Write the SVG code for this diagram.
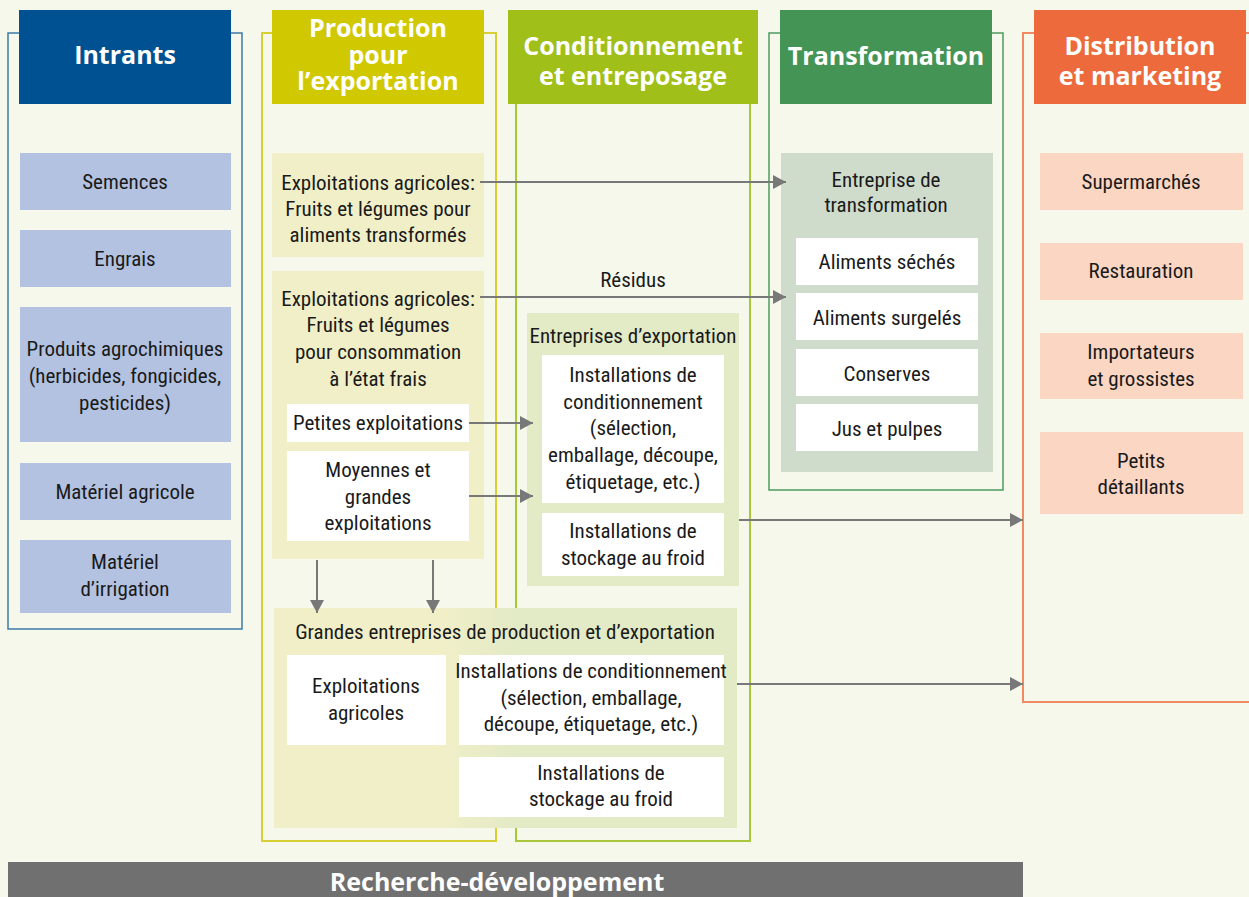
<svg xmlns="http://www.w3.org/2000/svg" width="1249" height="897" viewBox="0 0 1249 897">
  <defs>
    <marker id="arrow" markerUnits="userSpaceOnUse" markerWidth="14" markerHeight="14" refX="13" refY="7" orient="auto">
      <path d="M0,0 L13,7 L0,14 Z" fill="#787878"/>
    </marker>
    <linearGradient id="bigCo" x1="274" y1="0" x2="737" y2="0" gradientUnits="userSpaceOnUse">
      <stop offset="0" stop-color="#f1efc8"/>
      <stop offset="0.36" stop-color="#f1efc8"/>
      <stop offset="0.52" stop-color="#e3eac6"/>
      <stop offset="1" stop-color="#e3eac6"/>
    </linearGradient>
    <style>
      .col { fill: none; }
      .hd { font-family: "Open Sans", "DejaVu Sans", sans-serif; font-weight: 700; font-size: 25px; fill: #ffffff; text-anchor: middle; }
      .t { font-family: "Liberation Sans Narrow", "Roboto Condensed", "Liberation Sans", sans-serif; font-size: 21px; fill: #1a1a1a; text-anchor: middle; }
      .white { fill: #ffffff; }
      .blue { fill: #b3c2e0; }
      .pale { fill: #f1efc8; }
      .sage { fill: #e3eac6; }
      .grey { fill: #d0dccb; }
      .peach { fill: #fad6c3; }
      .arr { stroke: #787878; stroke-width: 2; fill: none; marker-end: url(#arrow); }
    </style>
  </defs>

  <rect x="0" y="0" width="1249" height="897" fill="#f6f8ec"/>

  <!-- Intrants -->
  <g id="intrants">
    <rect class="col" x="8" y="33" width="234" height="596" stroke="#3d7aa9" stroke-width="1.5"/>
    <rect x="19" y="10" width="212" height="94" fill="#005192"/>
    <text class="hd" x="125" y="64" font-size="26">Intrants</text>
    <rect class="blue" x="20" y="153" width="211" height="57"/>
    <text class="t" x="125" y="189">Semences</text>
    <rect class="blue" x="20" y="230" width="211" height="57"/>
    <text class="t" x="125" y="266">Engrais</text>
    <rect class="blue" x="20" y="307" width="211" height="135"/>
    <text class="t" x="125" y="356">Produits agrochimiques<tspan x="125" dy="27">(herbicides, fongicides,</tspan><tspan x="125" dy="27">pesticides)</tspan></text>
    <rect class="blue" x="20" y="463" width="211" height="57"/>
    <text class="t" x="125" y="499">Matériel agricole</text>
    <rect class="blue" x="20" y="540" width="211" height="73"/>
    <text class="t" x="125" y="569">Matériel<tspan x="125" dy="27">d’irrigation</tspan></text>
  </g>

  <!-- Production pour l'exportation -->
  <g id="production">
    <rect class="col" x="262" y="33" width="234" height="808" stroke="#d8cf35" stroke-width="2"/>
    <rect x="272" y="10" width="212" height="94" fill="#d0c800"/>
    <text class="hd" x="378" y="37">Production<tspan x="378" dy="27">pour</tspan><tspan x="378" dy="26">l’exportation</tspan></text>
    <rect class="pale" x="272" y="153" width="212" height="104"/>
    <text class="t" x="378" y="190">Exploitations agricoles:<tspan x="378" dy="26">Fruits et légumes pour</tspan><tspan x="378" dy="26">aliments transformés</tspan></text>
    <rect class="pale" x="272" y="271" width="212" height="288"/>
    <text class="t" x="378" y="306">Exploitations agricoles:<tspan x="378" dy="26">Fruits et légumes</tspan><tspan x="378" dy="27">pour consommation</tspan><tspan x="378" dy="27">à l’état frais</tspan></text>
  </g>
  <g id="petites-exploitations">
    <rect class="white" x="287" y="404" width="182" height="38"/>
    <text class="t" x="378" y="430">Petites exploitations</text>
  </g>
  <g id="moyennes-grandes">
    <rect class="white" x="287" y="451" width="182" height="90"/>
    <text class="t" x="378" y="477">Moyennes et<tspan x="378" dy="27">grandes</tspan><tspan x="378" dy="26">exploitations</tspan></text>
  </g>

  <!-- Conditionnement et entreposage -->
  <g id="conditionnement">
    <rect class="col" x="516" y="33" width="234" height="808" stroke="#a8c73a" stroke-width="2"/>
    <rect x="508" y="10" width="250" height="94" fill="#a0bf19"/>
    <text class="hd" x="633" y="55">Conditionnement<tspan x="633" dy="30">et entreposage</tspan></text>
  </g>
  <g id="entreprises-exportation">
    <rect class="sage" x="527" y="313" width="212" height="273"/>
    <text class="t" x="633" y="343">Entreprises d’exportation</text>
    <rect class="white" x="542" y="355" width="182" height="148"/>
    <text class="t" x="633" y="382">Installations de<tspan x="633" dy="27">conditionnement</tspan><tspan x="633" dy="26">(sélection,</tspan><tspan x="633" dy="27">emballage, découpe,</tspan><tspan x="633" dy="27">étiquetage, etc.)</tspan></text>
    <rect class="white" x="542" y="513" width="182" height="63"/>
    <text class="t" x="633" y="538">Installations de<tspan x="633" dy="27">stockage au froid</tspan></text>
  </g>

  <!-- Grandes entreprises -->
  <g id="grandes-entreprises">
    <rect x="274" y="608" width="463" height="220" fill="url(#bigCo)"/>
    <text class="t" x="505" y="639">Grandes entreprises de production et d’exportation</text>
    <rect class="white" x="287" y="655" width="159" height="90"/>
    <text class="t" x="366" y="693">Exploitations<tspan x="366" dy="27">agricoles</tspan></text>
    <rect class="white" x="459" y="655" width="265" height="90"/>
    <text class="t" x="591" y="678">Installations de conditionnement<tspan x="591" dy="27">(sélection, emballage,</tspan><tspan x="591" dy="26">découpe, étiquetage, etc.)</tspan></text>
    <rect class="white" x="459" y="757" width="265" height="60"/>
    <text class="t" x="601" y="780">Installations de<tspan x="601" dy="26">stockage au froid</tspan></text>
  </g>

  <!-- Transformation -->
  <g id="transformation">
    <rect class="col" x="769" y="33" width="234" height="457" stroke="#4e9a5e" stroke-width="1.5"/>
    <rect x="780" y="10" width="212" height="94" fill="#439455"/>
    <text class="hd" x="886" y="65">Transformation</text>
    <rect class="grey" x="781" y="153" width="212" height="319"/>
    <text class="t" x="886" y="187">Entreprise de<tspan x="886" dy="25">transformation</tspan></text>
    <rect class="white" x="796" y="238" width="182" height="47"/>
    <text class="t" x="887" y="269">Aliments séchés</text>
    <rect class="white" x="796" y="293" width="182" height="47"/>
    <text class="t" x="887" y="325">Aliments surgelés</text>
    <rect class="white" x="796" y="349" width="182" height="47"/>
    <text class="t" x="887" y="381">Conserves</text>
    <rect class="white" x="796" y="404" width="182" height="47"/>
    <text class="t" x="887" y="436">Jus et pulpes</text>
  </g>

  <!-- Distribution et marketing -->
  <g id="distribution">
    <rect class="col" x="1023" y="33" width="240" height="669" stroke="#ef8a63" stroke-width="2"/>
    <rect x="1034" y="10" width="212" height="94" fill="#ec6a3b"/>
    <text class="hd" x="1140" y="55">Distribution<tspan x="1140" dy="30">et marketing</tspan></text>
    <rect class="peach" x="1040" y="153" width="203" height="57"/>
    <text class="t" x="1141" y="189">Supermarchés</text>
    <rect class="peach" x="1040" y="243" width="203" height="57"/>
    <text class="t" x="1141" y="278">Restauration</text>
    <rect class="peach" x="1040" y="333" width="203" height="66"/>
    <text class="t" x="1141" y="359">Importateurs<tspan x="1141" dy="27">et grossistes</tspan></text>
    <rect class="peach" x="1040" y="432" width="203" height="82"/>
    <text class="t" x="1141" y="468">Petits<tspan x="1141" dy="26">détaillants</tspan></text>
  </g>

  <!-- Recherche-développement -->
  <g id="recherche">
    <rect x="8" y="862" width="1015" height="40" fill="#707070"/>
    <text class="hd" x="497" y="891" font-size="24.5">Recherche-développement</text>
  </g>

  <!-- Connectors -->
  <g id="connectors">
    <line class="arr" x1="480" y1="182" x2="786" y2="182"/>
    <line class="arr" x1="480" y1="297" x2="786" y2="297"/>
    <text class="t" x="633" y="287">Résidus</text>
    <line class="arr" x1="469" y1="423" x2="533" y2="423"/>
    <line class="arr" x1="469" y1="496" x2="533" y2="496"/>
    <line class="arr" x1="317" y1="560" x2="317" y2="613"/>
    <line class="arr" x1="433" y1="560" x2="433" y2="613"/>
    <line class="arr" x1="739" y1="520" x2="1023" y2="520"/>
    <line class="arr" x1="737" y1="684" x2="1023" y2="684"/>
  </g>
</svg>
